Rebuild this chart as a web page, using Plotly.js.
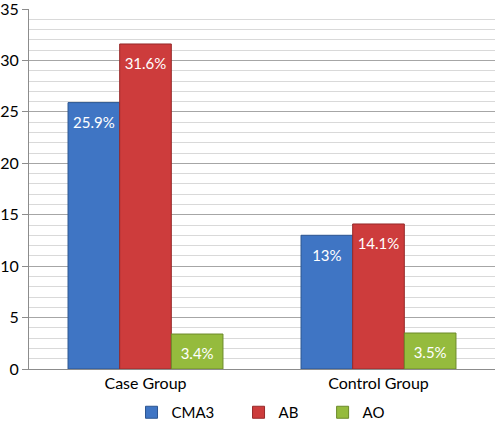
<!DOCTYPE html>
<html><head><meta charset="utf-8">
<script src="https://cdn.plot.ly/plotly-3.0.1.min.js"></script>
<style>html,body{margin:0;padding:0;background:#fff}#chart{width:496px;height:428px}</style>
</head><body><div id="chart"></div>
<script>
const categories = ["Case Group", "Control Group"];
const cma3 = [25.9, 13];
const ab = [31.6, 14.1];
const ao = [3.4, 3.5];
const cma3Labels = ["25.9%", "13%"];
const abLabels = ["31.6%", "14.1%"];
const aoLabels = ["3.4%", "3.5%"];
const yTicks = [0, 5, 10, 15, 20, 25, 30, 35];

const FONT = "Lato, 'Open Sans', sans-serif";
// small filler line above the label gives the extra top padding seen in the reference
function padLabel(s) { return "<span style='font-size:1px'>\u00a0</span><br><span style='font-size:15px'>" + s + "</span>"; }

function bar(name, y, labels, color, line) {
  return {
    type: "bar", name: name, x: categories, y: y, text: labels.map(padLabel),
    textposition: "inside", insidetextanchor: "end",
    textfont: {color: "#ffffff", size: 16.5, family: FONT},
    marker: {color: color, line: {color: line, width: 1}},
    hoverinfo: "none"
  };
}
const data = [
  bar("CMA3\u00a0\u00a0\u00a0\u00a0\u00a0", cma3, cma3Labels, "#3f75c4", "#2c5590"),
  bar("AB\u00a0\u00a0\u00a0\u00a0\u00a0", ab, abLabels, "#cd3c3c", "#962a2a"),
  bar("AO", ao, aoLabels, "#95bb3d", "#6c8a2a")
];
const layout = {
  width: 496, height: 428,
  margin: {l: 29, r: 1, t: 9, b: 59, autoexpand: false},
  paper_bgcolor: "#fff", plot_bgcolor: "#fff",
  barmode: "group", bargap: 0.335, bargroupgap: 0,
  font: {family: FONT, color: "#000", size: 15},
  xaxis: {showline: true, linecolor: "#8c8c8c", ticks: "", tickfont: {size: 16}, automargin: false},
  yaxis: {range: [0, 35], tickmode: "array", tickvals: yTicks, showline: true, linecolor: "#8c8c8c",
          ticks: "outside", ticklen: 6, tickcolor: "#8c8c8c", automargin: false, ticklabeloverflow: "allow",
          gridcolor: "#a6a6a6", tickfont: {size: 16}, zeroline: false,
          minor: {dtick: 1, showgrid: true, gridcolor: "#d9d9d9", ticks: ""}},
  showlegend: true,
  legend: {orientation: "h", x: 0.22, xanchor: "left", y: -0.075, yanchor: "top", font: {size: 15}, itemwidth: 30},
};
Plotly.newPlot("chart", data, layout, {displayModeBar: false, staticPlot: true});
</script></body></html>
